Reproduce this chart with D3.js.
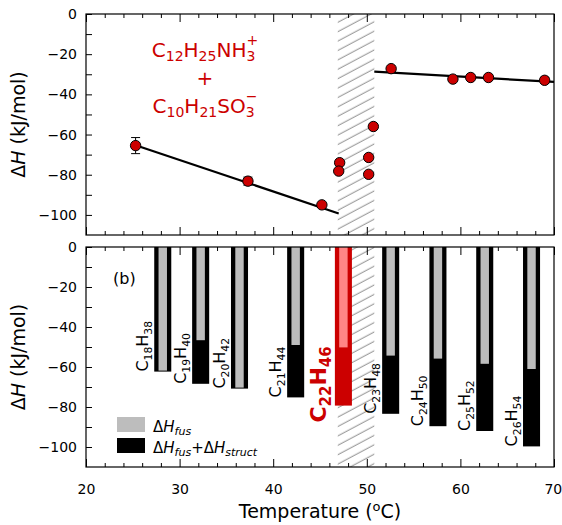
<!DOCTYPE html>
<html>
<head>
<meta charset="utf-8">
<script src="https://cdn.jsdelivr.net/npm/d3@7"></script>
<style>
  body { margin: 0; background: #fff; }
  text { font-family: "DejaVu Sans", sans-serif; }
</style>
</head>
<body>
<div id="chart"></div>
<script>
// tick values
const tempTicks = [20, 30, 40, 50, 60, 70];
const dhTicks = [0, -20, -40, -60, -80, -100];

// (a) mixed surfactant: measured points
const mixTemp = [25.3, 37.3, 45.2, 47.1, 47.0, 50.2, 50.2, 50.7, 52.6, 59.2, 61.1, 63.0, 69.0];
const mixDH = [-65.5, -83.2, -95, -74, -78.2, -71.4, -79.8, -56, -27.2, -32.4, -31.6, -31.6, -33];
const mixErr = [4, 2, 0, 0, 0, 0, 0, 0, 0, 0, 0, 0, 1.5];

// linear fits below and above the transition
const fitLowTemp = [25.3, 47.0];
const fitLowDH = [-65.3, -99.3];
const fitHighTemp = [50.8, 70];
const fitHighDH = [-28.7, -33.8];

// hatched transition band (°C)
const transitionBand = [46.9, 50.8];

// (b) n-alkanes
const alkanes = ["C18H38", "C19H40", "C20H42", "C21H44", "C22H46", "C23H48", "C24H50", "C25H52", "C26H54"];
const alkaneTemp = [28.2, 32.25, 36.4, 42.4, 47.5, 52.55, 57.6, 62.6, 67.6];
const alkaneTotal = [-62.3, -68.4, -70.8, -75.2, -79.3, -83.4, -89.6, -92, -99.7];
const alkaneFus = [-61.8, -46.6, -70.3, -49, -50.2, -54.3, -55.8, -58.4, -61];
const highlighted = "C22H46";

const RED = "#cc0000";

function formula(sel, str, size, subSize, shift) {
    // digits become subscripts, a trailing +/− is stacked over the last subscript
    const parts = str.match(/[A-Z][a-z]?|\d+|[+\u2212]/g);
    let low = false;
    parts.forEach((p, i) => {
        const ts = sel.append("tspan").text(p);
        if (/\d/.test(p)) {
            ts.attr("font-size", subSize);
            if (!low) { ts.attr("dy", shift); low = true; }
        } else if (p === "+" || p === "\u2212") {
            const prev = parts[i - 1];
            ts.attr("font-size", subSize)
                .attr("dx", -0.636 * subSize * prev.length)
                .attr("dy", -shift - subSize * 0.85);
        } else {
            ts.attr("font-size", size);
            if (low) { ts.attr("dy", -shift); low = false; }
        }
    });
}

function drawChart() {
    const svgWidth = 562, svgHeight = 525;
    const left = 86, right = 554;
    const panels = [{ top: 14, bottom: 235 }, { top: 247, bottom: 467 }];

    const svg = d3.select("#chart").append("svg")
        .attr("width", svgWidth)
        .attr("height", svgHeight);

    const defs = svg.append("defs");
    const pat = defs.append("pattern")
        .attr("id", "hatch")
        .attr("patternUnits", "userSpaceOnUse")
        .attr("width", 10)
        .attr("height", 8.3)
        .attr("patternTransform", "rotate(-28)");
    pat.append("line")
        .attr("x1", 0).attr("x2", 10)
        .attr("y1", 4).attr("y2", 4)
        .attr("stroke", "#9a9a9a")
        .attr("stroke-width", 1.1);

    const x = d3.scaleLinear().domain([20, 70]).range([left, right]);
    const yScales = panels.map(p => d3.scaleLinear().domain([-110, 0]).range([p.bottom, p.top]));

    panels.forEach((p, i) => {
        const y = yScales[i];
        const g = svg.append("g");

        // transition band
        g.append("rect")
            .attr("x", x(transitionBand[0]))
            .attr("y", p.top)
            .attr("width", x(transitionBand[1]) - x(transitionBand[0]))
            .attr("height", p.bottom - p.top)
            .attr("fill", "url(#hatch)");

        // axes with inward ticks
        const xMinor = d3.range(20, 71, 2).filter(v => v % 10 !== 0);
        g.append("g").attr("transform", `translate(0,${p.bottom})`)
            .call(d3.axisBottom(x).tickValues(tempTicks).tickSize(-8).tickPadding(i === 1 ? 17 : 0)
                .tickFormat(i === 1 ? d3.format("d") : ""));
        g.append("g").attr("transform", `translate(0,${p.bottom})`)
            .call(d3.axisBottom(x).tickValues(xMinor).tickSize(-4).tickFormat(""));
        g.append("g").attr("transform", `translate(0,${p.top})`)
            .call(d3.axisTop(x).tickValues(tempTicks).tickSize(-8).tickFormat(""));
        g.append("g").attr("transform", `translate(0,${p.top})`)
            .call(d3.axisTop(x).tickValues(xMinor).tickSize(-4).tickFormat(""));
        g.append("g").attr("transform", `translate(${left},0)`)
            .call(d3.axisLeft(y).tickValues(dhTicks).tickSize(-6).tickPadding(9));
        g.append("g").attr("transform", `translate(${left},0)`)
            .call(d3.axisLeft(y).tickValues(d3.range(-10, -101, -20)).tickSize(-6).tickFormat(""));

        g.selectAll(".domain").remove();
        g.selectAll(".tick line").attr("stroke", "#000").attr("stroke-width", 1);
        g.selectAll(".tick text").attr("font-size", 14).attr("fill", "#000")
            .attr("font-family", "DejaVu Sans");

        // y label
        const yl = g.append("text")
            .attr("transform", `translate(25,${(p.top + p.bottom) / 2}) rotate(-90)`)
            .attr("text-anchor", "middle")
            .attr("font-size", 19);
        yl.append("tspan").text("\u0394");
        yl.append("tspan").attr("font-style", "italic").text("H");
        yl.append("tspan").text(" (kJ/mol)");

        p.g = g;
    });

    // "70" sits right on the figure edge, pull it in a touch
    panels[1].g.selectAll(".tick text").filter(d => d === 70).attr("text-anchor", "end").attr("dx", "0.55em");

    // ---------- top panel
    const yTop = yScales[0];
    const gTop = panels[0].g;
    const line = d3.line().x(d => x(d[0])).y(d => yTop(d[1]));

    gTop.append("path")
        .attr("d", line(d3.zip(fitLowTemp, fitLowDH)))
        .attr("fill", "none").attr("stroke", "#000").attr("stroke-width", 2.2);
    gTop.append("path")
        .attr("d", line(d3.zip(fitHighTemp, fitHighDH)))
        .attr("fill", "none").attr("stroke", "#000").attr("stroke-width", 2.2);

    const pts = d3.range(mixTemp.length).map(k => ({ t: mixTemp[k], h: mixDH[k], e: mixErr[k] }));
    const errs = gTop.selectAll(".err").data(pts.filter(d => d.e > 0)).enter().append("g").attr("class", "err");
    errs.append("line")
        .attr("x1", d => x(d.t)).attr("x2", d => x(d.t))
        .attr("y1", d => yTop(d.h - d.e)).attr("y2", d => yTop(d.h + d.e))
        .attr("stroke", "#000");
    [1, -1].forEach(s => {
        errs.append("line")
            .attr("x1", d => x(d.t) - 4.5).attr("x2", d => x(d.t) + 4.5)
            .attr("y1", d => yTop(d.h + s * d.e)).attr("y2", d => yTop(d.h + s * d.e))
            .attr("stroke", "#000");
    });

    gTop.selectAll(".pt").data(pts).enter().append("circle")
        .attr("class", "pt")
        .attr("cx", d => x(d.t))
        .attr("cy", d => yTop(d.h))
        .attr("r", 5.2)
        .attr("fill", RED)
        .attr("stroke", "#000")
        .attr("stroke-width", 1);

    const f1 = gTop.append("text").attr("x", 205).attr("y", 57).attr("text-anchor", "middle").attr("fill", RED);
    formula(f1, "C12H25NH3+", 20, 14, 4);
    gTop.append("text").attr("x", 205).attr("y", 85).attr("text-anchor", "middle")
        .attr("fill", RED).attr("font-size", 20).text("+");
    const f2 = gTop.append("text").attr("x", 205).attr("y", 113).attr("text-anchor", "middle").attr("fill", RED);
    formula(f2, "C10H21SO3\u2212", 20, 14, 4);

    // ---------- bottom panel
    const yBot = yScales[1];
    const gBot = panels[1].g;
    const bw = x(21.82) - x(20);
    const iw = x(20.9) - x(20);
    const bars = alkanes.map((n, k) => ({ name: n, t: alkaneTemp[k], tot: alkaneTotal[k], fus: alkaneFus[k] }));

    gBot.selectAll(".bar").data(bars).enter().append("rect")
        .attr("class", "bar")
        .attr("x", d => x(d.t) - bw / 2)
        .attr("y", yBot(0))
        .attr("width", bw)
        .attr("height", d => yBot(d.tot) - yBot(0))
        .attr("fill", d => d.name === highlighted ? RED : "#000");

    gBot.selectAll(".inner").data(bars).enter().append("rect")
        .attr("class", "inner")
        .attr("x", d => x(d.t) - iw / 2)
        .attr("y", yBot(0))
        .attr("width", iw)
        .attr("height", d => yBot(d.fus) - yBot(0))
        .attr("fill", d => d.name === highlighted ? "#ff8585" : "#bdbdbd");

    bars.forEach(d => {
        const hl = d.name === highlighted;
        const tx = x(d.t) - bw / 2 - (hl ? 8.5 : 6);
        const ty = yBot(d.tot) + (hl ? 17 : 0);
        const t = gBot.append("text")
            .attr("transform", `translate(${tx},${ty}) rotate(-90)`)
            .attr("fill", hl ? RED : "#000")
            .attr("font-weight", hl ? "bold" : "normal");
        if (hl) formula(t, d.name, 22, 15, 5);
        else formula(t, d.name, 16, 10.8, 4);
    });

    gBot.append("text").attr("x", 113).attr("y", 284).attr("font-size", 16).text("(b)");

    // legend
    const legend = [{ c: "#bdbdbd", extra: false }, { c: "#000", extra: true }];
    legend.forEach((l, k) => {
        const ly = 417 + k * 21;
        gBot.append("rect").attr("x", 117).attr("y", ly).attr("width", 28).attr("height", 15).attr("fill", l.c);
        const t = gBot.append("text").attr("x", 153).attr("y", ly + 14.5).attr("font-size", 15);
        const dh = (sub) => {
            t.append("tspan").text("\u0394");
            t.append("tspan").attr("font-style", "italic").text("H");
            t.append("tspan").attr("font-style", "italic").attr("font-size", 11).attr("dy", 3).text(sub);
        };
        dh("fus");
        if (l.extra) {
            t.append("tspan").attr("dy", -3).text("+");
            dh("struct");
        }
    });

    // frames
    panels.forEach(p => {
        svg.append("rect")
            .attr("x", left).attr("y", p.top)
            .attr("width", right - left).attr("height", p.bottom - p.top)
            .attr("fill", "none").attr("stroke", "#000").attr("stroke-width", 1.2);
    });

    // x label
    const xl = svg.append("text")
        .attr("x", (left + right) / 2).attr("y", 518)
        .attr("text-anchor", "middle").attr("font-size", 19);
    xl.append("tspan").text("Temperature (");
    xl.append("tspan").attr("font-size", 13).attr("dy", -7).text("o");
    xl.append("tspan").attr("dy", 7).text("C)");
}

document.addEventListener("DOMContentLoaded", drawChart);
</script>
</body>
</html>
